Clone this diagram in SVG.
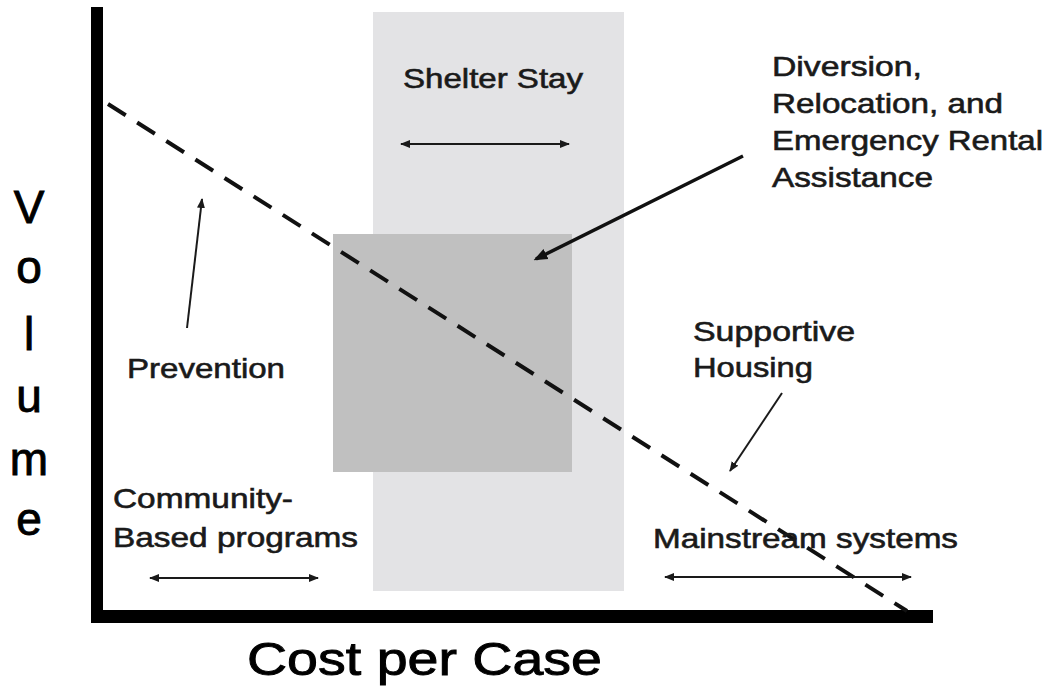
<svg xmlns="http://www.w3.org/2000/svg" width="1049" height="687" viewBox="0 0 1049 687">
<style>
  .t { font-family: "Liberation Sans", Arial, sans-serif; font-size: 28px; fill: #1a1a1a; stroke: #1a1a1a; stroke-width: 0.6px; }
  .ax { font-family: "Liberation Sans", Arial, sans-serif; font-size: 46px; fill: #000; stroke: #000; stroke-width: 0.9px; }
  .thin { stroke: #1a1a1a; stroke-width: 2; fill: none; }
  .dbl { stroke: #1a1a1a; stroke-width: 2; fill: none; marker-start: url(#ah); marker-end: url(#ah); }
</style>
<defs>
  <marker id="ah" viewBox="0 0 10 10" refX="9" refY="5" markerWidth="5" markerHeight="5" orient="auto-start-reverse" markerUnits="strokeWidth">
    <path d="M0,1 L10,5 L0,9 z" fill="#1a1a1a"/>
  </marker>
  <marker id="ahb" viewBox="0 0 10 10" refX="8" refY="5" markerWidth="4" markerHeight="4" orient="auto" markerUnits="strokeWidth">
    <path d="M0,1 L10,5 L0,9 z" fill="#111"/>
  </marker>
</defs>

<g id="shelter-band">
  <rect x="373" y="12" width="251" height="579" fill="#e3e3e5"/>
</g>
<g id="diversion-box">
  <rect x="333" y="234" width="239" height="238" fill="#c0c0c0"/>
</g>

<g id="axes">
  <rect x="91" y="7" width="12" height="616" fill="#000"/>
  <rect x="91" y="610" width="842" height="13" fill="#000"/>
</g>

<g id="connectors">
  <line id="trend" x1="108" y1="104" x2="907" y2="611" stroke="#111" stroke-width="4" stroke-dasharray="21 13.5"/>
  <line class="dbl" x1="401" y1="144" x2="569" y2="144"/>
  <line class="dbl" x1="150" y1="578" x2="318" y2="578"/>
  <line class="dbl" x1="665" y1="577" x2="911" y2="577"/>
  <line x1="743" y1="156" x2="536" y2="259" stroke="#111" stroke-width="3.5" marker-end="url(#ahb)"/>
  <line class="thin" x1="187" y1="328" x2="202" y2="199" stroke-width="1.8" marker-end="url(#ah)"/>
  <line class="thin" x1="782" y1="393" x2="730" y2="471" stroke-width="1.8" marker-end="url(#ah)"/>
</g>

<g id="label-shelter">
  <text class="t" x="403" y="88" textLength="180" lengthAdjust="spacingAndGlyphs">Shelter Stay</text>
</g>
<g id="label-diversion">
  <text class="t" x="772" y="76" textLength="150" lengthAdjust="spacingAndGlyphs">Diversion,</text>
  <text class="t" x="772" y="113" textLength="231" lengthAdjust="spacingAndGlyphs">Relocation, and</text>
  <text class="t" x="772" y="150" textLength="271" lengthAdjust="spacingAndGlyphs">Emergency Rental</text>
  <text class="t" x="772" y="187" textLength="161" lengthAdjust="spacingAndGlyphs">Assistance</text>
</g>
<g id="label-prevention">
  <text class="t" x="127" y="378" textLength="158" lengthAdjust="spacingAndGlyphs">Prevention</text>
</g>
<g id="label-supportive">
  <text class="t" x="693" y="341" textLength="162" lengthAdjust="spacingAndGlyphs">Supportive</text>
  <text class="t" x="693" y="377" textLength="120" lengthAdjust="spacingAndGlyphs">Housing</text>
</g>
<g id="label-community">
  <text class="t" x="113" y="508" textLength="180" lengthAdjust="spacingAndGlyphs">Community-</text>
  <text class="t" x="113" y="547" textLength="245" lengthAdjust="spacingAndGlyphs">Based programs</text>
</g>
<g id="label-mainstream">
  <text class="t" x="653" y="548" textLength="305" lengthAdjust="spacingAndGlyphs">Mainstream systems</text>
</g>

<g id="axis-x-label">
  <text class="ax" x="247" y="675" textLength="355" lengthAdjust="spacingAndGlyphs">Cost per Case</text>
</g>
<g id="axis-y-label">
  <text class="ax" x="29" y="223" text-anchor="middle">V</text>
  <text class="ax" x="29" y="283" text-anchor="middle">o</text>
  <text class="ax" x="29" y="350" text-anchor="middle">l</text>
  <text class="ax" x="29" y="412" text-anchor="middle">u</text>
  <text class="ax" x="29" y="475" text-anchor="middle">m</text>
  <text class="ax" x="29" y="535" text-anchor="middle">e</text>
</g>
</svg>
